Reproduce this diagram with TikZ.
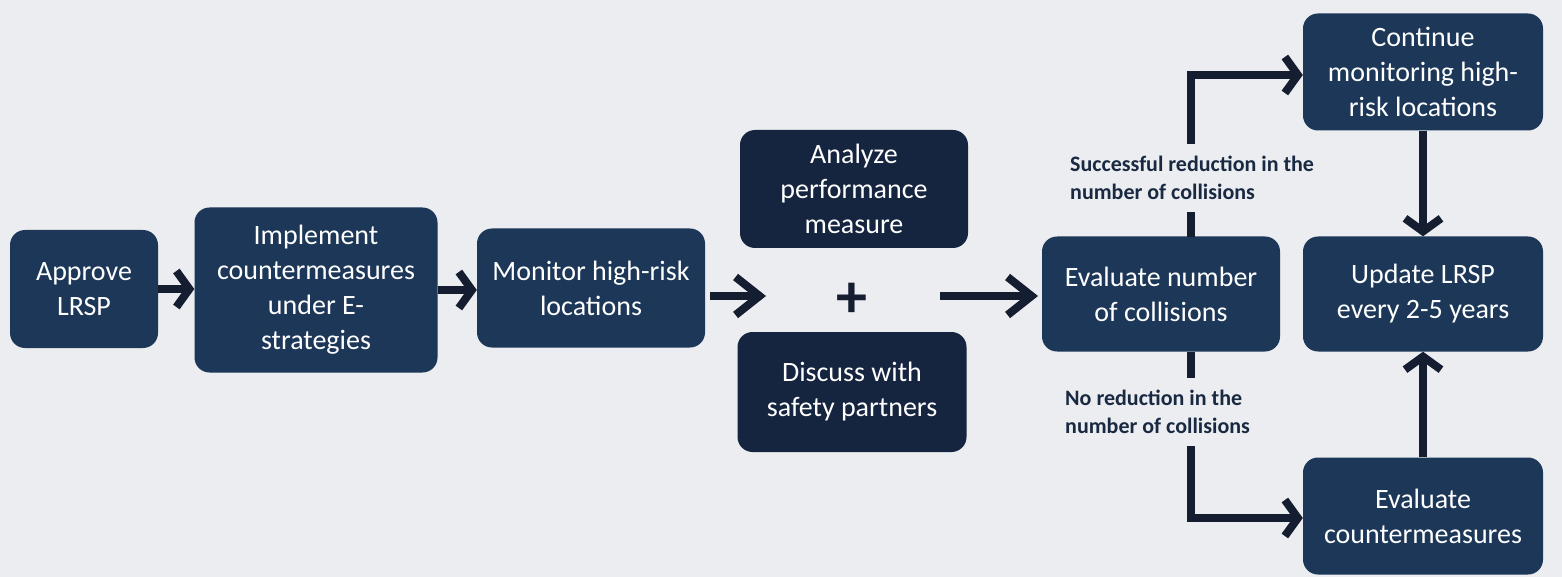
\documentclass[tikz,border=0pt]{standalone}
\usepackage{fontspec}
\setmainfont{Carlito}
\usetikzlibrary{arrows.meta}
\definecolor{bg}{HTML}{EBEDF0}
\definecolor{boxblue}{HTML}{1C3758}
\definecolor{boxdark}{HTML}{15243F}
\definecolor{labelcol}{HTML}{1A2942}
\definecolor{arrowcol}{HTML}{141E30}
\tikzset{
  box/.style={rectangle, rounded corners=15pt, fill=boxblue, text=white, align=center,
    font=\fontsize{28}{35}\selectfont, inner sep=0pt},
  darkbox/.style={box, fill=boxdark},
  conn/.style={draw=arrowcol, line width=8pt, -{Straight Barb[length=13pt,width=36pt]}},
  bigconn/.style={draw=arrowcol, line width=8pt, -{Straight Barb[length=24pt,width=38pt]}},
  lbl/.style={fill=bg, text=labelcol, align=left, font=\fontsize{22}{27.5}\selectfont\bfseries,
    inner xsep=2pt, inner ysep=12pt}
}
\begin{document}
\begin{tikzpicture}[x=1pt,y=-1pt]
\fill[bg] (0,0) rectangle (1562,577);
\useasboundingbox (0,0) rectangle (1562,577);

\node[box, minimum width=148pt, minimum height=118pt] (approve) at (84,289) {Approve\\LRSP};
\node[box, minimum width=243pt, minimum height=165pt] (impl) at (316,290) {Implement\\countermeasures\\under E-\\strategies};
\node[box, minimum width=228pt, minimum height=119pt] (monitor) at (591,288) {Monitor high-risk\\locations};
\node[darkbox, minimum width=228pt, minimum height=118pt] (analyze) at (854,189) {Analyze\\performance\\measure};
\node[darkbox, minimum width=229pt, minimum height=120pt] (discuss) at (852,392) {Discuss with\\safety partners};
\node[text=arrowcol, font=\fontsize{62}{62}\selectfont\bfseries, inner sep=0pt] (plus) at (852,300) {+};
\node[box, minimum width=238pt, minimum height=115pt] (evalnum) at (1161,294) {Evaluate number\\of collisions};
\node[box, minimum width=240pt, minimum height=117pt] (cont) at (1423,72) {Continue\\monitoring high-\\risk locations};
\node[box, minimum width=240pt, minimum height=115pt] (update) at (1423,294) {Update LRSP\\every 2-5 years};
\node[box, minimum width=240pt, minimum height=117pt] (evalcm) at (1423,516) {Evaluate\\countermeasures};

\coordinate (m1) at (710,296);
\coordinate (m2) at (766,296);
\coordinate (p1) at (940,296);
\coordinate (p2) at (1038,296);
\coordinate (top1) at (1191,237);
\coordinate (bot1) at (1191,352);

\draw[conn] (approve.east) -- (impl.west |- approve.east);
\draw[conn] (impl.east) -- (monitor.west |- impl.east);
\draw[bigconn] (m1) -- (m2);
\draw[bigconn] (p1) -- (p2);
\draw[conn] (top1) |- (cont.west |- 0,75);
\draw[conn] (bot1) |- (evalcm.west |- 0,518);
\draw[conn] (cont.south) -- (update.north);
\draw[conn] (evalcm.north) -- (update.south);

\node[lbl, anchor=west] (succ) at (1068,178) {Successful reduction in the\\number of collisions};
\node[lbl, anchor=west] (nored) at (1063,412) {No reduction in the\\number of collisions};
\end{tikzpicture}
\end{document}
